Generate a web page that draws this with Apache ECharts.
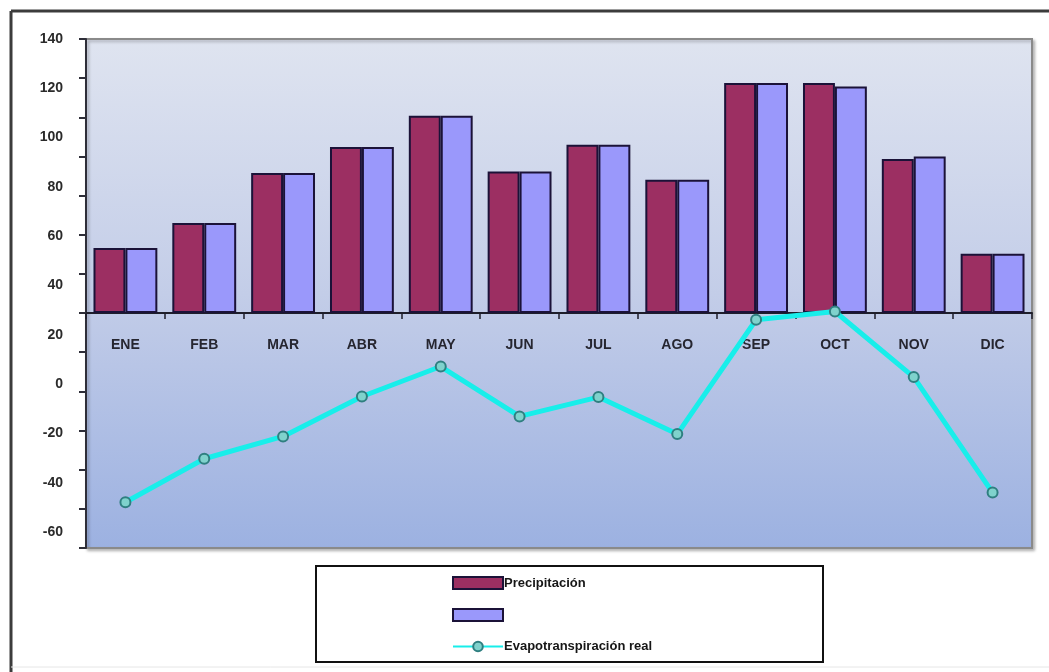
<!DOCTYPE html>
<html>
<head>
<meta charset="utf-8">
<script src="https://cdn.jsdelivr.net/npm/echarts@6/dist/echarts.min.js"></script>
<style>
  html, body { margin: 0; padding: 0; background: #ffffff; }
  #chart { width: 1049px; height: 672px; }
</style>
</head>
<body>
<div id="chart"></div>
<script>
// Months of the year
const months = ['ENE', 'FEB', 'MAR', 'ABR', 'MAY', 'JUN', 'JUL', 'AGO', 'SEP', 'OCT', 'NOV', 'DIC'];

// Monthly precipitation (first bar of each pair)
const precipitacion = [33.2, 46.0, 71.5, 84.8, 100.8, 72.3, 86.0, 68.1, 117.5, 117.5, 78.7, 30.3];
// Second, unnamed bar series
const segundaSerie = [33.2, 46.0, 71.5, 84.8, 100.8, 72.3, 86.0, 68.1, 117.5, 115.8, 80.0, 30.3];
// Real evapotranspiration line
const evapotranspiracion = [-96.6, -74.4, -63.0, -42.6, -27.3, -52.8, -42.9, -61.8, -3.4, 0.8, -32.7, -91.7];

// Plotting scale (tick marks along the vertical axis)
const plotMin = -120;
const plotMax = 140;
const plotStep = 20;
// Printed tick labels on the left
const labelMin = -60;
const labelMax = 140;
const labelStep = 20;

const seriesNames = ['Precipitación', ' ', 'Evapotranspiración real'];

// Plot area geometry
const plotTop = 39;
const plotHeight = 509;
// height of the part of the plot above the zero line (where month names hang)
const upperHeight = plotHeight * plotMax / (plotMax - plotMin);

const chart = echarts.init(document.getElementById('chart'), null, { renderer: 'canvas' });

const fontFamily = '"Liberation Sans", Arial, sans-serif';

const option = {
  backgroundColor: '#ffffff',
  animation: false,
  grid: [
    {
      left: 86, top: plotTop, right: 17, height: plotHeight,
      show: true,
      backgroundColor: new echarts.graphic.LinearGradient(0, 0, 0, 1, [
        { offset: 0, color: '#dfe4f0' },
        { offset: 0.5, color: '#c3cde8' },
        { offset: 1, color: '#9cb1e1' }
      ]),
      borderColor: '#8a8a8a',
      borderWidth: 2,
      shadowColor: 'rgba(0,0,0,0.25)',
      shadowBlur: 3,
      shadowOffsetX: 2,
      shadowOffsetY: 2
    },
    {
      left: 86, top: plotTop, right: 17, height: 493,
      show: false
    },
    {
      left: 86, top: plotTop, right: 17, height: upperHeight,
      show: false
    }
  ],
  xAxis: [
    {
      type: 'category',
      gridIndex: 0,
      data: months,
      axisLine: { onZero: true, lineStyle: { color: '#1e1e2a', width: 2 } },
      axisTick: { show: true, interval: 0, length: 6, lineStyle: { color: '#1e1e2a', width: 1.5 } },
      axisLabel: { show: false },
      splitLine: { show: false }
    },
    {
      type: 'category',
      gridIndex: 1,
      data: months,
      show: false
    },
    {
      // month names just under the zero line
      type: 'category',
      gridIndex: 2,
      data: months,
      position: 'bottom',
      axisLine: { show: false },
      axisTick: { show: false },
      splitLine: { show: false },
      axisLabel: {
        interval: 0,
        margin: 25,
        color: '#262630',
        fontFamily: fontFamily,
        fontWeight: 'bold',
        fontSize: 14
      }
    }
  ],
  yAxis: [
    {
      type: 'value',
      gridIndex: 0,
      min: plotMin,
      max: plotMax,
      interval: plotStep,
      axisLine: { show: true, lineStyle: { color: '#2e2e38', width: 2 } },
      axisTick: { show: true, length: 7, lineStyle: { color: '#2e2e38', width: 2 } },
      axisLabel: { show: false },
      splitLine: { show: false }
    },
    {
      type: 'value',
      gridIndex: 1,
      min: labelMin,
      max: labelMax,
      interval: labelStep,
      axisLine: { show: false },
      axisTick: { show: false },
      splitLine: { show: false },
      axisLabel: {
        margin: 23,
        color: '#2a2a2a',
        fontFamily: fontFamily,
        fontWeight: 'bold',
        fontSize: 14
      }
    },
    {
      type: 'value',
      gridIndex: 2,
      min: 0,
      max: plotMax,
      show: false
    }
  ],
  legend: {
    orient: 'vertical',
    left: 447,
    top: 571,
    itemWidth: 50,
    itemHeight: 12,
    itemGap: 18,
    data: [
      { name: seriesNames[0], icon: 'rect' },
      { name: seriesNames[1], icon: 'rect' },
      { name: seriesNames[2] }
    ],
    textStyle: {
      color: '#161616',
      fontFamily: fontFamily,
      fontWeight: 'bold',
      fontSize: 13,
      padding: [0, 0, 4, -4]
    }
  },
  graphic: [
    // outer frame
    { type: 'line', shape: { x1: 11, y1: 11, x2: 1049, y2: 11 }, style: { stroke: '#3c3c3c', lineWidth: 3 }, silent: true },
    { type: 'line', shape: { x1: 11, y1: 11, x2: 11, y2: 672 }, style: { stroke: '#3c3c3c', lineWidth: 3 }, silent: true },
    { type: 'line', shape: { x1: 11, y1: 667, x2: 1049, y2: 667 }, style: { stroke: '#e6e6e6', lineWidth: 1 }, silent: true },
    // legend box
    { type: 'rect', shape: { x: 316, y: 566, width: 507, height: 96 }, style: { fill: 'none', stroke: '#111111', lineWidth: 2 }, z: 10, silent: true }
  ],
  series: [
    {
      name: seriesNames[0],
      type: 'bar',
      xAxisIndex: 0,
      yAxisIndex: 0,
      data: precipitacion,
      barGap: '0%',
      barCategoryGap: '19%',
      itemStyle: { color: '#9c2f62', borderColor: '#1b1238', borderWidth: 2 }
    },
    {
      name: seriesNames[1],
      type: 'bar',
      xAxisIndex: 0,
      yAxisIndex: 0,
      data: segundaSerie,
      barGap: '0%',
      barCategoryGap: '19%',
      itemStyle: { color: '#9a98fb', borderColor: '#1b1238', borderWidth: 2 }
    },
    {
      name: seriesNames[2],
      type: 'line',
      xAxisIndex: 0,
      yAxisIndex: 0,
      data: evapotranspiracion,
      z: 5,
      symbol: 'circle',
      symbolSize: 10,
      lineStyle: { color: '#18eeea', width: 5 },
      itemStyle: { color: '#7fd2cc', borderColor: '#2f7f80', borderWidth: 2 }
    }
  ]
};

chart.setOption(option);
</script>
</body>
</html>
